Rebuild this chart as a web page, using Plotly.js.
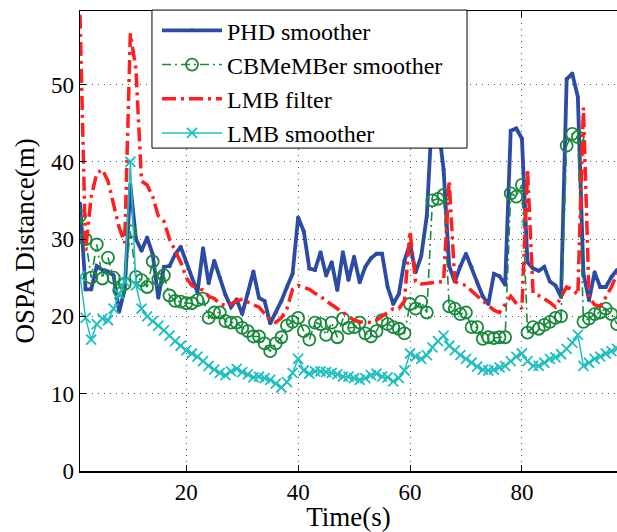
<!DOCTYPE html>
<html>
<head>
<meta charset="utf-8">
<script src="https://cdn.plot.ly/plotly-3.0.1.min.js"></script>
<style>html,body{margin:0;padding:0;background:#fff;}#chart{width:617px;height:532px;}</style>
</head>
<body>
<div id="chart"></div>
<script>
// Time steps 1..97 (visible part of the axis)
const time = Array.from({length: 97}, (_, i) => i + 1);

const seriesNames = ["PHD smoother", "CBMeMBer smoother", "LMB filter", "LMB smoother"];

const phdSmoother = [
  34.6, 23.5, 23.5, 26.5, 26.0, 25.8, 25.3, 20.6, 23.5, 37.0,
  30.0, 28.5, 30.2, 28.0, 22.4, 26.4, 26.5, 28.0, 29.0, 27.0,
  25.0, 23.1, 28.8, 24.3, 27.2, 25.0, 22.8, 21.2, 22.2, 20.3,
  23.0, 25.8, 22.4, 22.0, 19.1, 20.5, 22.0, 23.8, 25.5, 32.8,
  31.0, 26.2, 26.0, 28.3, 25.3, 27.0, 23.4, 28.3, 24.7, 27.7,
  24.4, 26.4, 27.5, 28.1, 28.1, 23.8, 21.6, 22.9, 27.2, 29.4,
  25.7, 27.8, 33.0, 47.0, 45.0, 39.0, 26.5, 24.5, 26.5, 28.1,
  26.4, 24.4, 22.6, 21.6, 25.5, 25.2, 24.1, 44.0, 44.3, 43.0,
  27.0, 26.2, 25.9, 26.4, 24.5, 24.0, 22.5, 50.7, 51.4, 48.4,
  25.5, 22.1, 25.7, 23.8, 23.8, 25.1, 26.0
];

const cbmemberSmoother = [
  33.0, 30.0, 25.0, 29.3, 24.9, 27.6, 25.0, 23.4, 24.2, 31.0,
  25.1, 24.7, 23.8, 27.1, 24.8, 25.3, 22.7, 22.0, 21.9, 21.7,
  21.7, 22.1, 22.3, 19.8, 20.5, 20.5, 19.4, 19.2, 19.2, 18.5,
  18.1, 17.4, 17.4, 16.5, 15.5, 16.5, 17.3, 18.8, 19.3, 19.8,
  18.1, 17.0, 19.2, 19.0, 17.6, 19.2, 17.3, 19.7, 18.5, 18.6,
  19.2, 17.8, 17.4, 18.1, 19.5, 19.0, 18.6, 18.4, 17.8, 21.6,
  21.0, 21.9, 20.5, 35.0, 35.2, 35.7, 21.3, 21.0, 20.3, 20.5,
  18.6, 18.6, 17.1, 17.3, 17.2, 17.3, 17.3, 35.9, 35.5, 37.0,
  17.9, 18.6, 18.4, 18.9, 19.3, 19.8, 20.0, 42.1, 43.6, 43.2,
  19.3, 19.7, 20.3, 20.5, 21.0, 20.3, 19.0
];

const lmbFilter = [
  59.0, 28.5, 35.5, 38.5, 39.0, 37.5, 34.5, 31.5, 29.5, 56.6,
  52.0, 37.5, 37.0, 35.5, 33.0, 32.3, 30.0, 28.5, 27.0, 25.0,
  24.0, 23.6, 23.4, 22.6, 22.3, 21.6, 21.4, 21.6, 22.0, 22.2,
  21.8, 21.5, 21.2, 20.3, 19.5, 19.2, 19.8, 21.0, 23.5, 24.0,
  23.8, 23.5, 23.0, 22.6, 22.0, 21.5, 21.0, 20.5, 20.0, 19.5,
  19.3, 19.2, 19.2, 19.5, 20.0, 20.5, 21.0, 21.0, 22.0, 31.0,
  24.5, 24.2, 24.3, 24.4, 24.4, 24.5, 37.6, 24.5, 24.2, 24.0,
  23.3, 22.6, 22.0, 21.4, 20.8, 20.5, 21.5, 22.6, 21.7, 21.0,
  39.0, 23.0, 22.7, 22.3, 21.8, 21.2, 22.5, 23.8, 23.5, 22.8,
  47.0, 22.5, 21.5, 21.3, 22.5, 23.8, 25.5
];

const lmbSmoother = [
  25.2, 19.8, 17.0, 19.0, 19.7, 19.5, 21.0, 22.9, 24.5, 40.0,
  24.0, 21.0, 20.0, 19.4, 18.8, 18.2, 17.5, 16.8, 16.2, 15.6,
  15.2, 14.8, 14.2, 13.6, 13.1, 12.7, 12.4, 12.9, 13.2, 12.8,
  12.5, 12.1, 12.2, 12.0, 11.8, 11.3, 10.8, 11.5, 12.7, 14.5,
  13.0, 12.6, 12.9, 12.9, 12.8, 12.7, 12.5, 12.2, 12.2, 12.0,
  11.8, 12.0, 12.4, 12.6, 12.2, 12.1, 11.6, 12.0, 13.0, 15.2,
  14.8, 14.5, 15.0, 16.0, 16.8, 17.5, 16.2, 15.6, 15.0, 14.5,
  14.0, 13.5, 13.1, 13.0, 13.1, 13.4, 13.6, 14.2, 14.8, 15.2,
  14.2, 13.6, 13.6, 14.0, 14.5, 14.7, 15.1, 15.8, 16.6, 17.6,
  13.6, 14.0, 14.5, 14.8, 15.2, 15.5, 15.8
];

const xTicks = [20, 40, 60, 80];
const yTicks = [0, 10, 20, 30, 40, 50];

const FONT = "'Liberation Serif', 'Times New Roman', serif";

const traces = [
  {
    x: time, y: phdSmoother, name: seriesNames[0],
    type: "scatter", mode: "lines+markers",
    line: {color: "#2c4ca4", width: 3.8},
    marker: {symbol: "circle", size: 4, color: "#2c4ca4"}
  },
  {
    x: time, y: cbmemberSmoother, name: seriesNames[1],
    type: "scatter", mode: "lines+markers",
    line: {color: "#178a3c", width: 1.6, dash: "9px,4px,2px,4px"},
    marker: {symbol: "circle-open", size: 12, color: "#178a3c", line: {width: 1.8, color: "#178a3c"}}
  },
  {
    x: time, y: lmbFilter, name: seriesNames[2],
    type: "scatter", mode: "lines",
    line: {color: "#ff1f1f", width: 3.5, dash: "14px,5px,3px,5px"}
  },
  {
    x: time, y: lmbSmoother, name: seriesNames[3],
    type: "scatter", mode: "lines+markers",
    line: {color: "#1fbfbf", width: 1.5},
    marker: {symbol: "x-thin-open", size: 10, color: "#1fbfbf", line: {width: 1.8, color: "#1fbfbf"}}
  }
];

const layout = {
  width: 617, height: 532,
  margin: {l: 80, r: 0, t: 11, b: 61},
  paper_bgcolor: "#fff", plot_bgcolor: "#fff",
  font: {family: FONT, size: 23, color: "#000"},
  showlegend: true,
  legend: {
    x: 0.1434, y: 1.006, xanchor: "left", yanchor: "top",
    bgcolor: "rgba(0,0,0,0)", borderwidth: 0,
    font: {family: FONT, size: 24, color: "#000"},
    itemwidth: 60, tracegroupgap: 0
  },
  shapes: [{
    type: "rect", xref: "paper", yref: "paper", layer: "above",
    x0: 0.134, x1: 0.7207, y0: 0.702, y1: 1.002,
    fillcolor: "#fff", line: {color: "#000", width: 1}
  }],
  xaxis: {
    range: [1, 97], tickvals: xTicks, ticktext: xTicks.map(String),
    ticks: "inside", ticklen: 6, tickcolor: "#000", tickwidth: 1,
    showline: true, linecolor: "#000", linewidth: 1.5, mirror: "ticks",
    showgrid: true, gridcolor: "#555", griddash: "1px,5px", gridwidth: 1,
    zeroline: false,
    tickfont: {family: FONT, size: 23, color: "#000"},
    title: {text: "Time(s)", font: {family: FONT, size: 27, color: "#000"}, standoff: 4}
  },
  yaxis: {
    range: [0, 59.5], tickvals: yTicks, ticktext: yTicks.map(String),
    ticks: "inside", ticklen: 6, tickcolor: "#000", tickwidth: 1,
    showline: true, linecolor: "#000", linewidth: 1.5, mirror: false,
    showgrid: true, gridcolor: "#555", griddash: "1px,5px", gridwidth: 1,
    zeroline: false,
    tickfont: {family: FONT, size: 23, color: "#000"},
    title: {text: "OSPA Distance(m)", font: {family: FONT, size: 27, color: "#000"}, standoff: 8}
  }
};

Plotly.newPlot("chart", traces, layout, {staticPlot: true, displayModeBar: false});
</script>
</body>
</html>
